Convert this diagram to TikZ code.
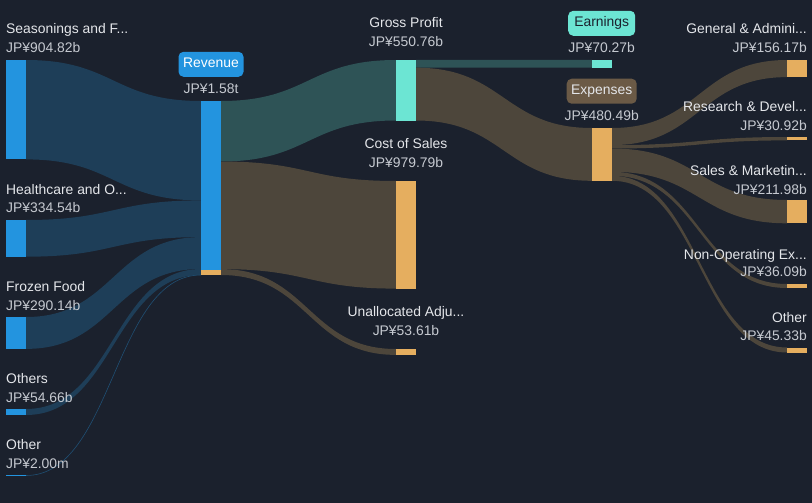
\documentclass[tikz,border=0pt]{standalone}
\usepackage{fontspec}
\setmainfont{Liberation Sans}
\usetikzlibrary{calc}
\definecolor{bgc}{HTML}{1B212D}
\definecolor{bluebar}{HTML}{2394DF}
\definecolor{cyanbar}{HTML}{6CE5D3}
\definecolor{orangebar}{HTML}{E5AE5F}
\definecolor{blueflow}{HTML}{1E3E58}
\definecolor{tealflow}{HTML}{2E5356}
\definecolor{brownflow}{HTML}{4D463B}
\definecolor{pillbrown}{HTML}{6B5A46}
\definecolor{lblc}{HTML}{E4E6EA}
\definecolor{valc}{HTML}{C5C9D0}
% band from source node (right edge) to target node (left edge), offsets measured down from the tops
\newcommand\sband[7]{%
  \fill[#7] let \p1=(#1.north east), \p2=(#4.north west), \n1={0.5*\x1+0.5*\x2} in
    (\x1,\y1-#2) .. controls (\n1,\y1-#2) and (\n1,\y2-#5) .. (\x2,\y2-#5)
    -- (\x2,\y2-#6) .. controls (\n1,\y2-#6) and (\n1,\y1-#3) .. (\x1,\y1-#3) -- cycle;}
\begin{document}
\begin{tikzpicture}[x=1pt,y=-1pt,
  bar/.style={rectangle,draw=none,inner sep=0pt,outer sep=0pt,minimum width=20pt,anchor=north west},
  txt/.style={inner sep=0pt,font=\fontsize{13.9}{16}\selectfont},
  lbl/.style={txt,text=lblc},
  val/.style={txt,text=valc},
  pill/.style={rectangle,rounded corners=5pt,inner sep=0pt,minimum height=25pt,
    text height=10pt,text depth=3pt,font=\fontsize{13.9}{16}\selectfont}]
\useasboundingbox (0,0) rectangle (812,503);
\fill[bgc] (0,0) rectangle (812,503);
% bars (nodes)
\node[bar,fill=bluebar,minimum height=99.4pt] (seas) at (6,60) {};
\node[bar,fill=bluebar,minimum height=36.7pt] (heal) at (6,220) {};
\node[bar,fill=bluebar,minimum height=31.9pt] (froz) at (6,317) {};
\node[bar,fill=bluebar,minimum height=6pt] (oths) at (6,409) {};
\node[bar,fill=bluebar,minimum height=1pt] (othl) at (6,475) {};
\node[bar,fill=bluebar,minimum height=174pt] (rev) at (201,101) {};
\node[bar,fill=cyanbar,minimum height=60.5pt] (gp) at (396,60) {};
\node[bar,fill=orangebar,minimum height=107.6pt] (cos) at (396,181) {};
\node[bar,fill=orangebar,minimum height=5.9pt] (ua) at (396,349) {};
\node[bar,fill=cyanbar,minimum height=7.7pt] (earn) at (592,60) {};
\node[bar,fill=orangebar,minimum height=52.8pt] (exps) at (592,128) {};
\node[bar,fill=orangebar,minimum height=17.1pt] (ga) at (787,60) {};
\node[bar,fill=orangebar,minimum height=3.4pt] (rd) at (787,137) {};
\node[bar,fill=orangebar,minimum height=23.3pt] (sm) at (787,200) {};
\node[bar,fill=orangebar,minimum height=4pt] (nop) at (787,284) {};
\node[bar,fill=orangebar,minimum height=5pt] (otr) at (787,347.5) {};
% flows
\sband{seas}{0}{99.4}{rev}{0}{99.4}{blueflow}
\sband{heal}{0}{36.7}{rev}{99.4}{136.1}{blueflow}
\sband{froz}{0}{31.9}{rev}{136.1}{168}{blueflow}
\sband{oths}{0}{6}{rev}{168}{174}{blueflow}
\draw[blueflow!80!bluebar,line width=0.6pt] let \p1=(othl.east), \p2=(rev.south west), \n1={0.5*\x1+0.5*\x2} in
  (\x1,\y1) .. controls (\n1,\y1) and (\n1,\y2) .. (\x2,\y2);
\sband{rev}{0}{60.5}{gp}{0}{60.5}{tealflow}
\sband{rev}{60.5}{168.1}{cos}{0}{107.6}{brownflow}
\sband{rev}{168.1}{174}{ua}{0}{5.9}{brownflow}
\sband{gp}{0}{7.7}{earn}{0}{7.7}{tealflow}
\sband{gp}{7.7}{60.5}{exps}{0}{52.8}{brownflow}
\sband{exps}{0}{17.1}{ga}{0}{17.1}{brownflow}
\sband{exps}{17.1}{20.5}{rd}{0}{3.4}{brownflow}
\sband{exps}{20.5}{43.8}{sm}{0}{23.3}{brownflow}
\sband{exps}{43.8}{47.8}{nop}{0}{4}{brownflow}
\sband{exps}{47.8}{52.8}{otr}{0}{5}{brownflow}
% redraw bars on top
\foreach \b/\c in {seas/bluebar,heal/bluebar,froz/bluebar,oths/bluebar,othl/bluebar,rev/bluebar,gp/cyanbar,cos/orangebar,ua/orangebar,earn/cyanbar,exps/orangebar,ga/orangebar,rd/orangebar,sm/orangebar,nop/orangebar,otr/orangebar}
  \fill[\c] (\b.north west) rectangle (\b.south east);
\fill[orangebar] ($(rev.south west)+(0,-5.5)$) rectangle (rev.south east);
% left labels
\node[lbl,anchor=base west] (seasL) at (6,34) {Seasonings and F...};
\node[val,anchor=base west] (seasV) at (6,52.7) {JP¥904.82b};
\node[lbl,anchor=base west] (healL) at (6,194) {Healthcare and O...};
\node[val,anchor=base west] (healV) at (6,212.5) {JP¥334.54b};
\node[lbl,anchor=base west] (frozL) at (6,291) {Frozen Food};
\node[val,anchor=base west] (frozV) at (6,310) {JP¥290.14b};
\node[lbl,anchor=base west] (othsL) at (6,383) {Others};
\node[val,anchor=base west] (othsV) at (6,402) {JP¥54.66b};
\node[lbl,anchor=base west] (othlL) at (6,449) {Other};
\node[val,anchor=base west] (othlV) at (6,468) {JP¥2.00m};
% revenue
\node[pill,fill=bluebar,text=white,minimum width=65pt] (revP) at (211,64.3) {Revenue};
\node[val,anchor=base] (revV) at (211,93.7) {JP¥1.58t};
% middle column
\node[lbl,anchor=base] (gpL) at (406,28) {Gross Profit};
\node[val,anchor=base] (gpV) at (406,47) {JP¥550.76b};
\node[lbl,anchor=base] (cosL) at (406,149) {Cost of Sales};
\node[val,anchor=base] (cosV) at (406,167.7) {JP¥979.79b};
\node[lbl,anchor=base] (uaL) at (406,316.7) {Unallocated Adju...};
\node[val,anchor=base] (uaV) at (406,335.7) {JP¥53.61b};
% earnings / expenses
\node[pill,fill=cyanbar,text=bgc,minimum width=67pt] (earnP) at (601.7,23.3) {Earnings};
\node[val,anchor=base] (earnV) at (601.7,53) {JP¥70.27b};
\node[pill,fill=pillbrown,text=lblc,minimum width=70pt] (expP) at (601.7,91.2) {Expenses};
\node[val,anchor=base] (expV) at (601.7,120.7) {JP¥480.49b};
% right column
\node[lbl,anchor=base east] (gaL) at (807,34) {General \& Admini...};
\node[val,anchor=base east] (gaV) at (807,52.7) {JP¥156.17b};
\node[lbl,anchor=base east] (rdL) at (807,111.3) {Research \& Devel...};
\node[val,anchor=base east] (rdV) at (807,130) {JP¥30.92b};
\node[lbl,anchor=base east] (smL) at (807,175.7) {Sales \& Marketin...};
\node[val,anchor=base east] (smV) at (807,194) {JP¥211.98b};
\node[lbl,anchor=base east] (nopL) at (807,259) {Non-Operating Ex...};
\node[val,anchor=base east] (nopV) at (807,276.7) {JP¥36.09b};
\node[lbl,anchor=base east] (otrL) at (807,322) {Other};
\node[val,anchor=base east] (otrV) at (807,340.7) {JP¥45.33b};
\end{tikzpicture}
\end{document}
